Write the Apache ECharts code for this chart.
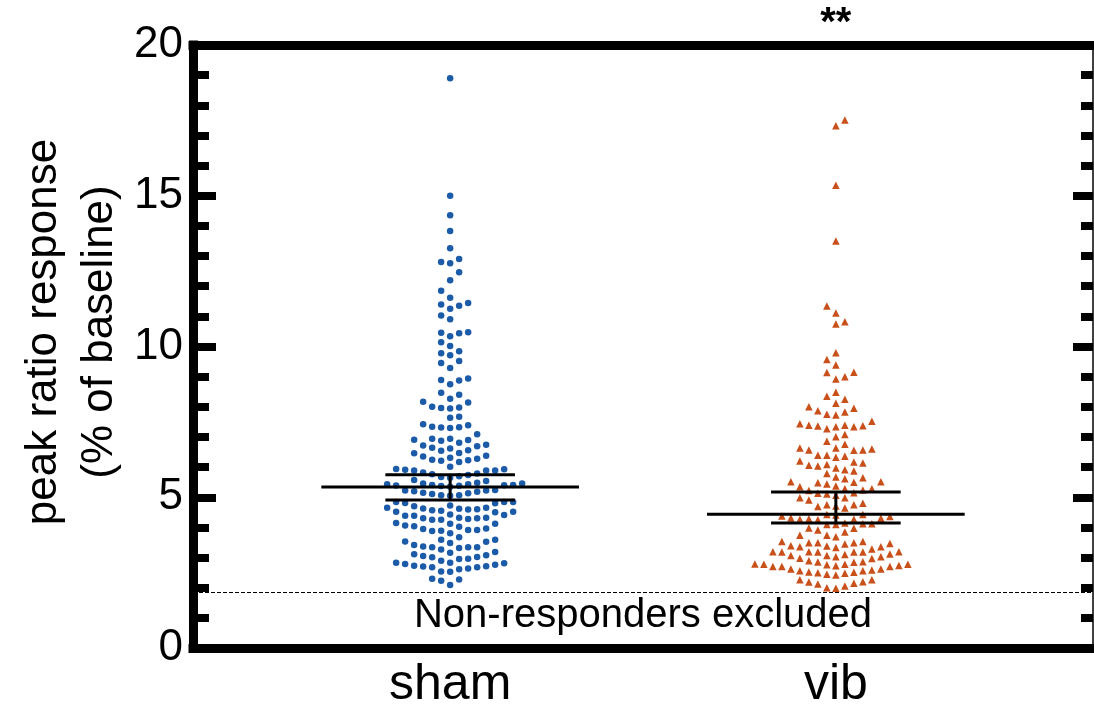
<!DOCTYPE html>
<html>
<head>
<meta charset="utf-8">
<script src="https://cdn.jsdelivr.net/npm/echarts@6/dist/echarts.min.js"></script>
<style>
  html, body { margin: 0; padding: 0; background: #fff; }
  #chart { width: 1094px; height: 710px; }
</style>
</head>
<body>
<div id="chart"></div>
<script>
// ---- data ----
const groups = ['sham', 'vib'];

const shamValues = [
  18.9, 15.0, 14.35, 13.83, 13.26, 12.9, 12.76, 12.8, 12.46, 12.2, 11.85, 11.62, 11.44, 11.35,
  11.39, 11.25, 10.9, 11.03, 10.47, 10.44, 10.34, 10.46, 10.02, 10.14, 9.78, 9.71, 9.84,
  9.52, 9.45, 9.29, 8.94, 8.87, 8.75, 8.89, 8.47, 8.27, 8.40, 8.17, 8.14, 7.98, 7.94, 7.96, 8.00,
  7.64, 7.67,
  7.42, 7.34, 7.31, 7.30, 7.32, 7.39, 7.09,
  6.94, 6.91, 6.87, 6.90, 6.94,
  6.81, 6.72, 6.64, 6.56, 6.54, 6.62, 6.69, 6.74,
  6.47, 6.38, 6.31, 6.23, 6.21, 6.24, 6.28, 6.35, 6.46,
  6.17,
  5.93, 5.91, 5.89, 5.89, 5.89, 5.94, 6.01,
  5.79, 5.74, 5.67, 5.65, 5.70, 5.76, 5.82,
  5.54, 5.57,
  5.48, 5.46, 5.43, 5.41, 5.38, 5.35, 5.37, 5.39, 5.40, 5.41, 5.43, 5.46,
  5.24, 5.22, 5.22, 5.20, 5.18, 5.15, 5.13, 5.11, 5.07, 5.07, 5.05,
  4.84, 4.81, 4.73, 4.65, 4.63, 4.60, 4.57, 4.55, 4.59, 4.62, 4.65, 4.70, 4.80, 4.84, 4.84,
  4.52, 4.43, 4.39, 4.32, 4.30, 4.28, 4.25, 4.25, 4.30, 4.32, 4.39, 4.41, 4.50, 4.52,
  4.12, 4.06, 4.02, 3.88, 3.95, 3.91, 3.91, 3.96, 3.81, 3.89, 4.04, 4.12, 4.15,
  3.67, 3.59, 3.59,
  3.53, 3.48, 3.37, 3.34, 3.32, 3.27, 3.34, 3.34, 3.42, 3.52,
  3.16, 3.08, 3.01, 2.96, 2.89, 2.95, 3.02, 3.05, 3.11, 3.18,
  2.83, 2.81, 2.76, 2.71, 2.68, 2.64, 2.53, 2.54, 2.61, 2.68, 2.70, 2.73, 2.79, 2.83,
  2.27, 2.09, 2.23, 2.30
];

const vibValues = [
  17.51, 17.32, 15.35, 13.50, 11.34, 11.11, 10.75, 10.82, 9.79, 9.57, 9.39, 9.15, 9.14, 9.00,
  8.92, 8.48, 8.35, 8.25, 8.12,
  7.95, 7.83, 7.73, 7.75, 7.87, 8.00,
  7.52, 7.39, 7.37, 7.27, 7.34, 7.34, 7.36, 7.39, 7.44,
  7.01, 7.08,
  6.86,
  6.63, 6.60, 6.57, 6.56, 6.57, 6.63, 6.76,
  6.39, 6.36, 6.33, 6.39,
  6.06, 5.97, 6.20, 6.14, 6.17, 6.04, 6.09,
  5.87, 5.79, 5.91,
  5.65, 5.51, 5.48, 5.44, 5.50, 5.51, 5.61, 5.67,
  5.37, 5.28, 5.22, 5.15, 5.11, 5.07, 5.13, 5.24, 5.28, 5.35,
  4.98, 4.80, 4.75, 4.64, 4.69, 4.71, 4.75, 4.91, 4.98,
  4.30, 4.27, 4.25, 4.43, 4.38, 4.36, 4.41, 4.43, 4.27, 4.29, 4.31,
  4.15, 4.12, 4.10, 4.10, 4.12,
  3.97, 3.85, 3.74, 3.69, 3.74, 3.91, 3.98,
  3.53, 3.49, 3.45, 3.39, 3.36, 3.33, 3.36, 3.38, 3.47, 3.49, 3.49, 3.53,
  3.28, 3.19, 3.18, 3.18, 3.12, 3.07, 3.03, 3.03, 3.07, 3.10, 3.18, 3.18, 3.19, 3.19,
  2.98, 2.85, 2.84, 2.78, 2.78, 2.74, 2.70, 2.70, 2.70, 2.73, 2.76, 2.78, 2.79, 2.86, 2.89, 2.97,
  2.62, 2.56, 2.51, 2.50, 2.42, 2.45, 2.48, 2.52, 2.56, 2.59, 2.62,
  2.26, 2.20, 2.15, 2.06, 1.98, 2.00, 2.12, 2.19, 2.26
];

// central line and interval ends per group
const centerValues = [5.34, 4.44];
const upperValues = [5.75, 5.17];
const lowerValues = [4.91, 4.15];

const cutoffValue = 1.86;           // response threshold
const cutoffLabel = 'Non-responders excluded';
const significance = ['', '**'];
const yTickValues = [0, 5, 10, 15, 20];

// ---- styling ----
const FONT = '"Liberation Sans", Arial, Helvetica, sans-serif';
const BLUE = '#1b5ba8';
const ORANGE = '#c9501a';
const HALF_LINE = 0.334;   // half width of the central line (x units)
const HALF_CAP = 0.168;    // half width of the interval caps (x units)
const COL_STEP = 9;        // horizontal spacing of stacked points (px)
const ROW_GAP = 9;         // minimal vertical gap within one column (px)

const chart = echarts.init(document.getElementById('chart'), null, { renderer: 'canvas' });

const spine = { show: true, onZero: false, lineStyle: { color: '#000', width: 9, cap: 'square' } };

chart.setOption({
  animation: false,
  grid: { left: 193, top: 45, width: 900, height: 603, containLabel: false },
  xAxis: [
    {
      type: 'value', min: -2 / 3, max: 5 / 3, position: 'bottom',
      axisLine: spine, axisTick: { show: false }, splitLine: { show: false },
      axisLabel: {
        show: true, customValues: [0, 1],
        formatter: v => groups[Math.round(v)] || '',
        fontSize: 50, color: '#000', fontFamily: FONT, margin: 12
      }
    },
    {
      type: 'value', min: -2 / 3, max: 5 / 3, position: 'top',
      axisLine: spine, axisTick: { show: false }, splitLine: { show: false },
      axisLabel: { show: false }
    }
  ],
  yAxis: [
    {
      type: 'value', min: 0, max: 20, interval: 5, position: 'left',
      axisLine: spine,
      axisTick: { show: true, inside: true, length: 23, lineStyle: { color: '#000', width: 8 } },
      minorTick: { show: true, splitNumber: 5, length: 16, lineStyle: { color: '#000', width: 8 } },
      splitLine: { show: false }, minorSplitLine: { show: false },
      axisLabel: {
        fontSize: 44, color: '#000', fontFamily: FONT, margin: 10,
        formatter: v => (yTickValues.indexOf(v) >= 0 ? String(v) : '')
      }
    },
    {
      type: 'value', min: 0, max: 20, interval: 5, position: 'right',
      axisLine: { show: true, onZero: false, lineStyle: { color: '#000', width: 1.5 } },
      axisTick: { show: true, inside: true, length: 20, lineStyle: { color: '#000', width: 8 } },
      minorTick: { show: true, splitNumber: 5, length: 12, lineStyle: { color: '#000', width: 8 } },
      splitLine: { show: false }, minorSplitLine: { show: false },
      axisLabel: { show: false }
    }
  ]
});

// Column-stacked dot layout: each value (ascending) goes to the free column
// nearest the group centre; a column is free when its last point sits at
// least ROW_GAP pixels lower.
function stackColumns(values, pxPerY) {
  const order = values.map((v, i) => i).sort((a, b) => values[a] - values[b]);
  const lastInCol = new Map();
  const cols = new Array(values.length);
  let leftFirst = true;
  order.forEach(i => {
    const y = values[i] * pxPerY;
    const free = c => !lastInCol.has(c) || y - lastInCol.get(c) >= ROW_GAP;
    let chosen = null;
    if (free(0)) chosen = 0;
    for (let k = 1; chosen === null; k++) {
      const a = leftFirst ? -k : k, b = -a;
      if (free(a)) chosen = a;
      else if (free(b)) chosen = b;
    }
    if (chosen !== 0) leftFirst = !leftFirst;
    lastInCol.set(chosen, y);
    cols[i] = chosen;
  });
  return cols;
}

const p00 = chart.convertToPixel({ xAxisIndex: 0, yAxisIndex: 0 }, [0, 0]);
const p11 = chart.convertToPixel({ xAxisIndex: 0, yAxisIndex: 0 }, [1, 1]);
const pxPerX = p11[0] - p00[0];
const pxPerY = p00[1] - p11[1];

function swarmData(values, gi) {
  const cols = stackColumns(values, pxPerY);
  return values.map((v, i) => [gi + cols[i] * COL_STEP / pxPerX, v]);
}

const intervalData = groups.map((g, i) => [i, centerValues[i], lowerValues[i], upperValues[i]]);

chart.setOption({
  series: [
    {
      name: groups[0], type: 'scatter', symbol: 'circle', symbolSize: 6.5,
      itemStyle: { color: BLUE, opacity: 1 },
      data: swarmData(shamValues, 0), z: 3, silent: true
    },
    {
      name: groups[1], type: 'scatter', symbol: 'triangle', symbolSize: 7.5,
      itemStyle: { color: ORANGE, opacity: 1 },
      data: swarmData(vibValues, 1), z: 3, silent: true
    },
    {
      name: 'interval', type: 'custom', z: 5, silent: true,
      data: intervalData,
      renderItem: (params, api) => {
        const x = api.value(0);
        const c = api.value(1), lo = api.value(2), hi = api.value(3);
        const style = { stroke: '#000', lineWidth: 3 };
        const seg = (a, b) => ({
          type: 'line',
          shape: { x1: a[0], y1: a[1], x2: b[0], y2: b[1] },
          style
        });
        return {
          type: 'group',
          children: [
            seg(api.coord([x - HALF_LINE, c]), api.coord([x + HALF_LINE, c])),
            seg(api.coord([x - HALF_CAP, hi]), api.coord([x + HALF_CAP, hi])),
            seg(api.coord([x - HALF_CAP, lo]), api.coord([x + HALF_CAP, lo])),
            seg(api.coord([x, lo]), api.coord([x, hi]))
          ]
        };
      },
      markLine: {
        silent: true, symbol: ['none', 'none'], label: { show: false },
        lineStyle: { color: '#000', width: 1, type: [4, 2] },
        data: [{ yAxis: cutoffValue }]
      }
    }
  ]
});

// annotations
const sigPos = groups.map((g, i) => chart.convertToPixel({ xAxisIndex: 0, yAxisIndex: 0 }, [i, 20]));
const midX = chart.convertToPixel({ xAxisIndex: 0, yAxisIndex: 0 }, [0.5, 0])[0];
const graphics = [
  {
    type: 'text', x: 72, y: 332, rotation: Math.PI / 2,
    style: {
      text: 'peak ratio response\n(% of baseline)', fontSize: 44, fontFamily: FONT,
      fill: '#000', align: 'center', verticalAlign: 'middle', lineHeight: 56
    }
  },
  {
    type: 'text', x: midX, y: 616,
    style: { text: cutoffLabel, fontSize: 40, fontFamily: FONT, fill: '#000', align: 'center', verticalAlign: 'middle' }
  }
];
significance.forEach((s, i) => {
  if (!s) return;
  graphics.push({
    type: 'text', x: sigPos[i][0], y: 24,
    style: { text: s, fontSize: 40, fontWeight: 'bold', fontFamily: FONT, fill: '#000', align: 'center', verticalAlign: 'middle' }
  });
});
chart.setOption({ graphic: graphics });
</script>
</body>
</html>
